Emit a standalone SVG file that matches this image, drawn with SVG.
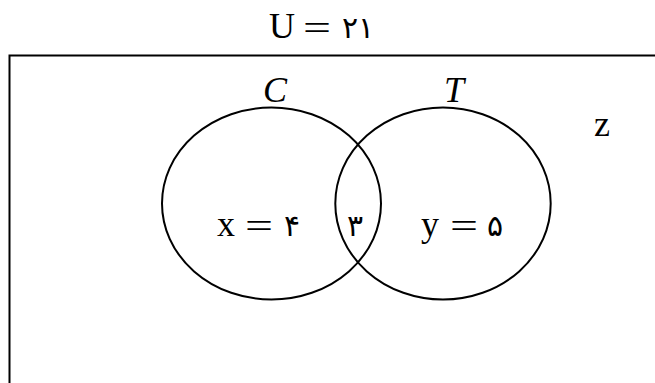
<svg xmlns="http://www.w3.org/2000/svg" width="655" height="383" viewBox="0 0 655 383">
<style>
.t{font-family:"Liberation Serif","DejaVu Serif",serif;font-size:36px;fill:#000}
.a{font-family:"DejaVu Sans",sans-serif;font-size:30px;fill:#000}
.i{font-style:italic}
.s{fill:none;stroke:#000;stroke-width:2}
</style>
<rect width="655" height="383" fill="#fff"/>
<g id="universe">
<path class="s" d="M9.5 383 V55.5 H655"/>
<text class="t" x="269" y="38">U</text>
<text class="t" x="303" y="40" textLength="28" lengthAdjust="spacingAndGlyphs">=</text>
<text class="a" x="342" y="38">۲۱</text>
<text class="t" x="594" y="136">z</text>
</g>
<g id="setC">
<ellipse class="s" cx="271.5" cy="203.5" rx="109.5" ry="96"/>
<text class="t i" x="263" y="102" font-size="30">C</text>
<text class="t" x="217" y="236">x</text>
<text class="t" x="245" y="238" textLength="28" lengthAdjust="spacingAndGlyphs">=</text>
<text class="a" x="284" y="236">۴</text>
</g>
<g id="setT">
<ellipse class="s" cx="443" cy="203.5" rx="107.7" ry="96"/>
<text class="t i" x="444" y="102" font-size="30">T</text>
<text class="t" x="421" y="236">y</text>
<text class="t" x="450" y="238" textLength="28" lengthAdjust="spacingAndGlyphs">=</text>
<text class="a" x="487" y="236">۵</text>
</g>
<g id="intersection">
<text class="a" x="347" y="236">۳</text>
</g>
</svg>
